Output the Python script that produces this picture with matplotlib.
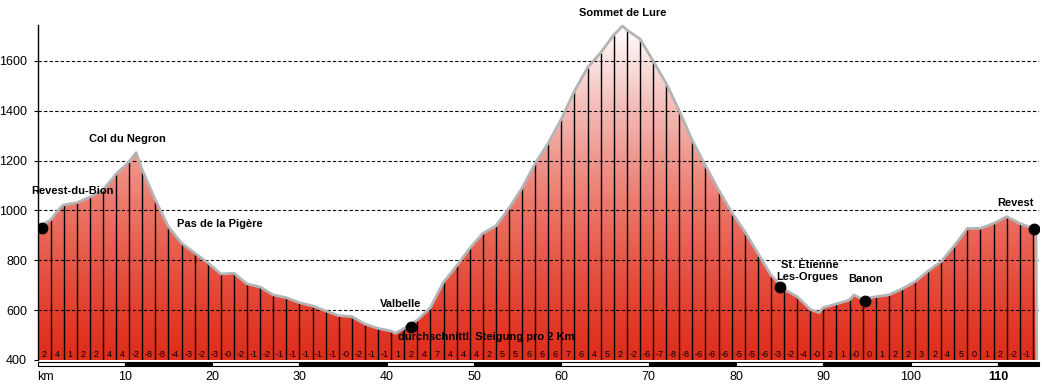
import matplotlib.pyplot as plt
import numpy as np
from matplotlib.patches import Polygon, Rectangle
from matplotlib.colors import LinearSegmentedColormap

# elevation at every 1.5 km marker
seg_km = [0, 1.5, 3, 4.5, 6, 7.5, 9, 10.5, 12, 13.5, 15, 16.5, 18, 19.5, 21, 22.5,
          24, 25.5, 27, 28.5, 30, 31.5, 33, 34.5, 36, 37.5, 39, 40.5, 42, 43.5, 45,
          46.5, 48, 49.5, 51, 52.5, 54, 55.5, 57, 58.5, 60, 61.5, 63, 64.5, 66, 67.5,
          69, 70.5, 72, 73.5, 75, 76.5, 78, 79.5, 81, 82.5, 84, 85.5, 87, 88.5, 90,
          91.5, 93, 94.5, 96, 97.5, 99, 100.5, 102, 103.5, 105, 106.5, 108, 109.5,
          111, 112.5, 114]
seg_elev = [930, 962, 1022, 1031, 1054, 1082, 1146, 1196, 1162, 1042, 934, 869, 829,
            790, 745, 748, 705, 693, 661, 650, 630, 617, 597, 578, 574, 544, 527, 516,
            527, 560, 610, 712, 777, 848, 908, 938, 1009, 1090, 1189, 1270, 1367, 1479,
            1573, 1633, 1704, 1724, 1688, 1600, 1510, 1400, 1280, 1180, 1082, 993, 915,
            828, 741, 684, 654, 603, 610, 625, 641, 643, 654, 661, 685, 714, 757, 795,
            858, 928, 928, 948, 975, 948, 928]

# extra points between markers (peaks, dips, end of track)
extra_km = [2.6, 11.3, 41.0, 67.0, 89.5, 93.5, 114.35, 114.45]
extra_elev = [1010, 1232, 507, 1740, 590, 661, 922, 400]

# gradient per section as printed along the bottom
grades = ['2', '4', '1', '2', '2', '4', '4', '-2', '-8', '-8', '-4', '-3', '-2', '-3',
          '-0', '-2', '-1', '-2', '-1', '-1', '-1', '-1', '-1', '-0', '-2', '-1', '-1',
          '1', '2', '4', '7', '4', '4', '4', '2', '5', '5', '6', '6', '6', '7', '6', '4',
          '5', '2', '-2', '-6', '-7', '-8', '-8', '-6', '-6', '-6', '-5', '-5', '-6', '-3',
          '-2', '-4', '-0', '2', '1', '-0', '0', '1', '2', '2', '3', '2', '4', '5', '0',
          '1', '2', '-2', '-1']

places = ['Revest-du-Bion', 'Valbelle', 'St. Ètienne\nLes-Orgues', 'Banon', 'Revest']
place_km = [0.5, 42.8, 85.05, 94.8, 114.1]
place_elev = [930, 534, 692, 638, 926]

km_ticks = [10, 20, 30, 40, 50, 60, 70, 80, 90, 100, 110]
elev_ticks = [400, 600, 800, 1000, 1200, 1400, 1600]

# merge the profile
pts = sorted(zip(seg_km + extra_km, seg_elev + extra_elev))
prof_km = np.array([p[0] for p in pts])
prof_elev = np.array([p[1] for p in pts])

fig = plt.figure(figsize=(10.42, 3.84), dpi=100, facecolor='white')
ax = fig.add_axes([37.5 / 1042, 24 / 384, (1039 - 37.5) / 1042, 335 / 384])
ymin, ymax = 400, 1744
xmax = 114.7
ax.set_xlim(0, xmax)
ax.set_ylim(ymin, ymax)

# gradient fill clipped to the profile
poly = Polygon(np.column_stack([np.r_[prof_km[0], prof_km, prof_km[-1]],
                                np.r_[ymin, prof_elev, ymin]]),
               closed=True, facecolor='none', edgecolor='none')
ax.add_patch(poly)
cmap = LinearSegmentedColormap.from_list('prof', ['#e02e1c', '#ea6e60', '#f3b4ae', '#ffffff'])
grad = np.linspace(0, 1, 256) ** 1.25
img = ax.imshow(grad[:, None], cmap=cmap, aspect='auto', origin='lower',
                extent=[0, xmax, ymin, 1744], zorder=1)
img.set_clip_path(poly)

# section markers
ax.vlines(seg_km[1:], ymin, seg_elev[1:], colors='black', lw=1, zorder=2)

# grid
for e in elev_ticks[1:]:
    ax.axhline(e, color='black', lw=0.8, ls=(0, (3, 2)), zorder=3)

# outline
ax.plot(prof_km, prof_elev, color='#b4b4b4', lw=2, zorder=4, solid_joinstyle='round')

# places
ax.plot(place_km, place_elev, 'o', color='black', ms=7.5, zorder=6)

bold = dict(fontsize=8, fontweight='bold', family='Liberation Sans', zorder=7)
ax.text(10.25, 1287, 'Col du Negron', ha='center', va='center', **bold)
ax.text(-0.7, 1078, 'Revest-du-Bion', ha='left', va='center', clip_on=False, **bold)
ax.text(15.95, 946, 'Pas de la Pigère', ha='left', va='center', **bold)
ax.text(67.0, 1791, 'Sommet de Lure', ha='center', va='center', clip_on=False, **bold)
ax.text(41.6, 624, 'Valbelle', ha='center', va='center', **bold)
ax.text(41.3, 491, 'durchschnittl. Steigung pro 2 Km', ha='left', va='center', **bold)
ax.text(85.2, 781, 'St. Ètienne', ha='left', va='center', **bold)
ax.text(84.6, 732, 'Les-Orgues', ha='left', va='center', **bold)
ax.text(92.8, 724, 'Banon', ha='left', va='center', **bold)
ax.text(109.9, 1029, 'Revest', ha='left', va='center', **bold)

# gradient numbers
for i, g in enumerate(grades):
    xm = (seg_km[i] + seg_km[i + 1]) / 2
    ax.text(xm, 424, g, ha='center', va='center', fontsize=6.5,
            family='Liberation Sans', zorder=7)

# km scale bar under the axis
tr = ax.get_xaxis_transform()
for k in range(0, 120, 10):
    w = min(10, xmax - k)
    col = 'white' if (k // 10) % 2 == 0 else 'black'
    ax.add_patch(Rectangle((k, -0.018), w, 0.012, transform=tr, facecolor=col,
                           edgecolor='black', lw=0.8, clip_on=False, zorder=5))

# axes styling
for s in ['top', 'right', 'bottom']:
    ax.spines[s].set_visible(False)
ax.spines['left'].set_linewidth(1)
ax.spines['left'].set_zorder(8)
ax.set_yticks(elev_ticks)
ax.set_yticklabels([str(e) for e in elev_ticks], family='Liberation Sans', fontsize=9)
ax.tick_params(axis='y', length=3, width=0.8, pad=4.5)
ax.set_xticks([0] + km_ticks)
ax.set_xticklabels(['km'] + [str(k) for k in km_ticks], family='Liberation Sans', fontsize=9)
ax.tick_params(axis='x', length=0, pad=8)
lbls = ax.get_xticklabels()
lbls[0].set_ha('left')
lbls[-1].set_fontweight('bold')

fig.savefig('out.png', dpi=100, facecolor='white')
